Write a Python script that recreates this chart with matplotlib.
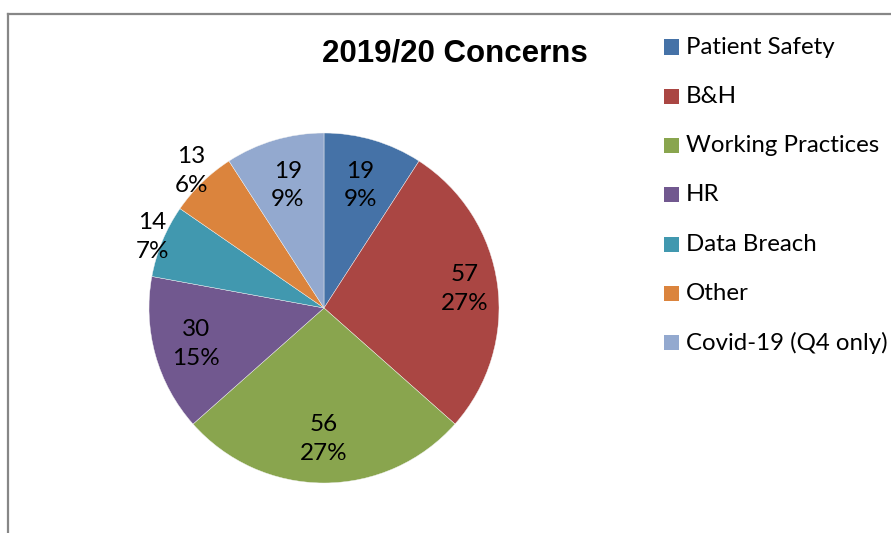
import numpy as np
import matplotlib
matplotlib.use("Agg")
import matplotlib.pyplot as plt
from matplotlib.patches import Rectangle
from matplotlib.lines import Line2D

categories = ["Patient Safety", "B&H", "Working Practices", "HR",
              "Data Breach", "Other", "Covid-19 (Q4 only)"]
counts = [19, 57, 56, 30, 14, 13, 19]
pct_labels = ["9%", "27%", "27%", "15%", "7%", "6%", "9%"]
colors = ["#4572A7", "#AA4643", "#89A54E", "#71588F",
          "#4198AF", "#DB843D", "#93A9CF"]
title = "2019/20 Concerns"

# how far from the centre each data label sits (outside for the thin slices)
label_r = [0.73, 0.81, 0.75, 0.76, 1.06, 1.09, 0.73]

W, H = 891, 533
fig = plt.figure(figsize=(W / 100, H / 100), dpi=100)

# chart frame: only the top and left edges show
fig.add_artist(Line2D([8 / W, 1.0], [1 - 14 / H, 1 - 14 / H],
                      transform=fig.transFigure, color="#878787", lw=1.6))
fig.add_artist(Line2D([8 / W, 8 / W], [0.0, 1 - 14 / H],
                      transform=fig.transFigure, color="#878787", lw=1.6))

cx, cy, r = 324, 308, 175
ax = fig.add_axes([(cx - r) / W, 1 - (cy + r) / H, 2 * r / W, 2 * r / H])
ax.axis("off")

wedges, _ = ax.pie(counts, colors=colors, startangle=90, counterclock=False,
                   radius=1, wedgeprops=dict(edgecolor="#f4f4f4", linewidth=0.3))
ax.set_xlim(-1, 1)
ax.set_ylim(-1, 1)

total = sum(counts)
cum = np.cumsum([0] + counts[:-1])
for i, (n, p) in enumerate(zip(counts, pct_labels)):
    mid = (cum[i] + n / 2) / total * 2 * np.pi
    x = label_r[i] * np.sin(mid)
    y = label_r[i] * np.cos(mid)
    ax.text(x, y, f"{n}\n{p}", ha="center", va="center", fontsize=17.5,
            family="Lato", linespacing=1.45, color="black", clip_on=False)

fig.text(455 / W, 1 - 53 / H, title, ha="center", va="center",
         fontsize=22.5, fontweight="bold", family="Liberation Sans")

# legend
for i, (lab, c) in enumerate(zip(categories, colors)):
    yc = 47 + i * 49.3
    fig.add_artist(Rectangle((664 / W, 1 - (yc + 7.5) / H), 15 / W, 15 / H,
                             transform=fig.transFigure, facecolor=c,
                             edgecolor="none"))
    fig.text(686 / W, 1 - yc / H, lab, ha="left", va="center",
             fontsize=17.3, family="Lato")

fig.savefig("out.png", dpi=100)
